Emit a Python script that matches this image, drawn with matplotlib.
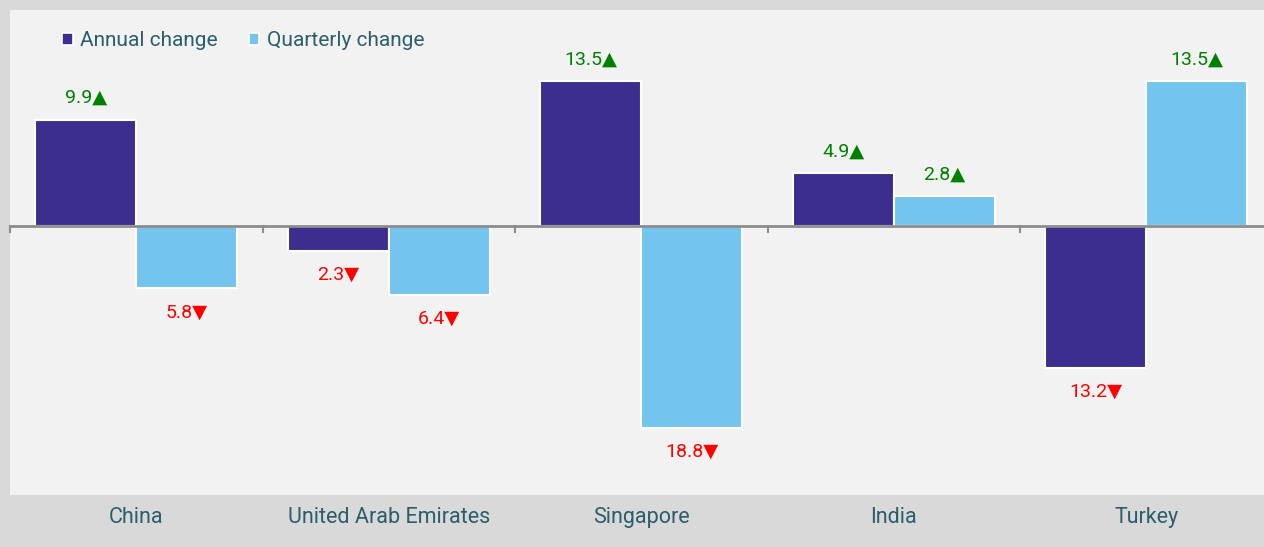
import matplotlib
matplotlib.use("Agg")
import matplotlib.pyplot as plt
from matplotlib.patches import Patch
from matplotlib import font_manager
import numpy as np

categories = ["China", "United Arab Emirates", "Singapore", "India", "Turkey"]
annual = [9.9, -2.3, 13.5, 4.9, -13.2]
quarterly = [-5.8, -6.4, -18.8, 2.8, 13.5]
series_names = ["Annual change", "Quarterly change"]

names = {f.name for f in font_manager.fontManager.ttflist}
FONT = "Liberation Sans Narrow" if "Liberation Sans Narrow" in names else "Roboto"

c_annual = "#3b2e8e"
c_quarter = "#73c5ef"
text_col = "#2b5d6b"
up_col = "#008000"
down_col = "#ff0000"

W, H = 1264, 547
fig = plt.figure(figsize=(W / 100, H / 100), dpi=100)
fig.patch.set_facecolor("#d9d9d9")
left, right, top, bottom = 10, 1272.5, 10, 495
ax = fig.add_axes([left / W, 1 - bottom / H, (right - left) / W, (bottom - top) / H])
ax.set_facecolor("#f2f2f2")

x = np.arange(len(categories))
bw = 0.4
ax.bar(x - bw / 2, annual, bw, color=c_annual, edgecolor="white", linewidth=1.5, zorder=2)
ax.bar(x + bw / 2, quarterly, bw, color=c_quarter, edgecolor="white", linewidth=1.5, zorder=2)

ax.set_xlim(-0.5, len(categories) - 0.5)
ax.set_ylim(-25.05, 20.1)

for s in ax.spines.values():
    s.set_visible(False)
ax.set_yticks([])
ax.set_xticks([])
ax.axhline(0, color="#8c8c8c", lw=2, zorder=3)
for b in np.arange(-0.5, len(categories), 1.0):
    ax.plot([b, b], [0, -0.55], color="#8c8c8c", lw=1.5, zorder=3, clip_on=False)

for xs, vals in ((x - bw / 2, annual), (x + bw / 2, quarterly)):
    for xi, v in zip(xs, vals):
        if v >= 0:
            ax.annotate(f"{abs(v):.1f}▲", (xi, v), xytext=(0, 9), textcoords="offset points",
                        ha="center", va="bottom", color=up_col, fontsize=14,
                        family=[FONT, "DejaVu Sans"], zorder=4)
        else:
            ax.annotate(f"{abs(v):.1f}▼", (xi, v), xytext=(0, -11), textcoords="offset points",
                        ha="center", va="top", color=down_col, fontsize=14,
                        family=[FONT, "DejaVu Sans"], zorder=4)

for xi, c in zip(x, categories):
    ax.text(xi, -28 / 485, c, transform=ax.get_xaxis_transform(), ha="center", va="baseline",
            color=text_col, fontsize=15.5, family=FONT)

handles = [Patch(facecolor=c_annual, edgecolor="white", linewidth=1.2),
           Patch(facecolor=c_quarter, edgecolor="white", linewidth=1.2)]
leg = fig.legend(handles, series_names, loc="center left", bbox_to_anchor=(52 / W, 1 - 41 / H),
                 ncol=2, frameon=False, borderpad=0, handlelength=0.5, handleheight=0.5,
                 handletextpad=0.35, columnspacing=1.5, prop={"family": FONT, "size": 15})
for t in leg.get_texts():
    t.set_color(text_col)

fig.savefig("out.png", dpi=100, facecolor=fig.get_facecolor())
